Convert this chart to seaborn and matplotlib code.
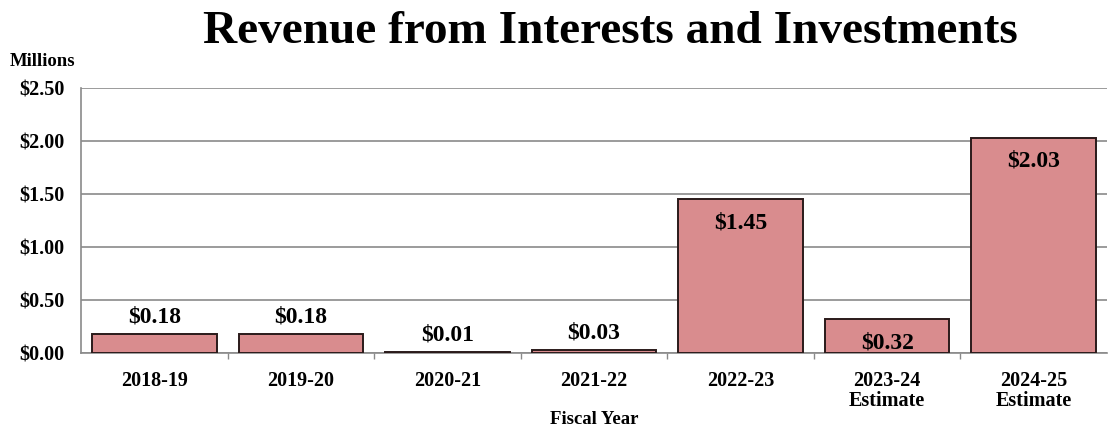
import matplotlib
matplotlib.use("Agg")
import matplotlib.pyplot as plt
import seaborn as sns
import pandas as pd

years = ["2018-19", "2019-20", "2020-21", "2021-22", "2022-23",
         "2023-24\nEstimate", "2024-25\nEstimate"]
revenue = [0.18, 0.18, 0.01, 0.03, 1.45, 0.32, 2.03]
inside_label = [False, False, False, False, True, True, True]

sns.set_theme(style="white")
plt.rcParams["font.family"] = ["Liberation Serif", "DejaVu Serif"]
plt.rcParams["font.weight"] = "bold"
plt.rcParams["text.color"] = "black"
plt.rcParams["xtick.color"] = "black"
plt.rcParams["ytick.color"] = "black"
plt.rcParams["axes.labelcolor"] = "black"

df = pd.DataFrame({"year": years, "revenue": revenue})

fig = plt.figure(figsize=(11.11, 4.28), dpi=100)
ax = fig.add_axes([81 / 1111, 1 - 353 / 428, 1026 / 1111, 265 / 428])

sns.barplot(data=df, x="year", y="revenue", color="#D98C8E", saturation=1,
            edgecolor="#2a1a1a", linewidth=1.4, width=0.85, ax=ax, zorder=3)

ax.set_ylim(0, 2.5)
ax.set_xlim(-0.5, len(years) - 0.5)
ax.set_yticks([0, 0.5, 1.0, 1.5, 2.0, 2.5])
ax.set_yticklabels([f"${v:.2f}" for v in ax.get_yticks()],
                   fontsize=14.5, fontweight="bold")
ax.set_xticks(range(len(years)))
ax.set_xticklabels(years, fontsize=14.5, fontweight="bold", linespacing=1.0)
# small separator ticks between categories
ax.set_xticks([i + 0.5 for i in range(len(years) - 1)], minor=True)
ax.tick_params(axis="x", which="minor", bottom=True, length=4, width=1,
               color="#8a8a8a")
ax.tick_params(axis="y", length=0, pad=12)
ax.tick_params(axis="x", which="major", length=0, pad=13)

ax.yaxis.grid(True, color="#8a8a8a", linewidth=1.2, zorder=0)
ax.set_axisbelow(True)
for side in ["top", "right"]:
    ax.spines[side].set_visible(False)
ax.spines["left"].set_color("#8a8a8a")
ax.spines["left"].set_linewidth(1.2)
ax.spines["bottom"].set_color("#8a8a8a")
ax.spines["bottom"].set_linewidth(1.2)

ax.set_xlabel("")
ax.set_ylabel("")

for i, (v, inside) in enumerate(zip(revenue, inside_label)):
    offset = -17 if inside else 12
    ax.annotate(f"${v:.2f}", (i, v), xytext=(0, offset), textcoords="offset points",
                ha="center", va="center", fontsize=17, fontweight="bold", zorder=5)

fig.text(610 / 1111, 0.925, "Revenue from Interests and Investments", ha="center",
         va="center", fontsize=34, fontweight="bold")
fig.text(10 / 1111, 1 - 62 / 428, "Millions", ha="left", va="center",
         fontsize=13.5, fontweight="bold")
fig.text(594 / 1111, 1 - 419 / 428, "Fiscal Year", ha="center", va="center",
         fontsize=13.5, fontweight="bold")

fig.savefig("out.png", dpi=100)
